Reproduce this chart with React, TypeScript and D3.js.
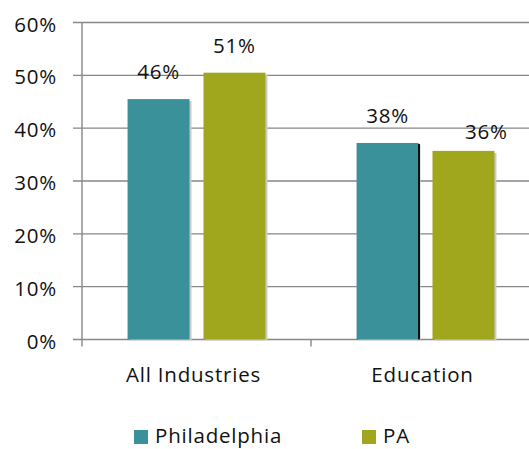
import React from "react";
import * as d3 from "d3";

const categories = ["All Industries", "Education"];
const seriesNames = ["Philadelphia", "PA"];
const philadelphia = [0.455, 0.372];
const pa = [0.505, 0.357];
const philadelphiaLabels = ["46%", "38%"];
const paLabels = ["51%", "36%"];
const yTicks = [0, 0.1, 0.2, 0.3, 0.4, 0.5, 0.6];

const colors = ["#3a9199", "#a1a71c"];
const font = "'Open Sans', sans-serif";

const width = 529;
const height = 449;
const margin = { top: 22.5, left: 82, bottom: 339.5 };

const App = () => {
  const x = d3
    .scaleBand()
    .domain(categories)
    .range([margin.left, margin.left + 229 * 2])
    .paddingInner(0)
    .paddingOuter(0);

  const xInner = d3
    .scaleBand()
    .domain(seriesNames)
    .range([0, x.bandwidth()])
    .paddingInner(0.184)
    .paddingOuter(0.6);

  const y = d3.scaleLinear().domain([0, 0.6]).range([margin.bottom, margin.top]);

  const series = [
    { name: "Philadelphia", values: philadelphia, labels: philadelphiaLabels },
    { name: "PA", values: pa, labels: paLabels },
  ];

  // manual nudges on the data labels, as in the original
  const labelShift = [
    [[0, 0], [0, 0]],
    [[0, 0], [23, 8]],
  ];

  const textStyle = {
    fontFamily: font,
    fontSize: 20.5,
    letterSpacing: 0.8,
    fill: "#111",
  };

  return (
    <svg
      width={width}
      height={height}
      style={{ position: "absolute", left: 0, top: 0, background: "#fff" }}
    >
      {/* gridlines + y ticks */}
      {yTicks.map((t) => (
        <g key={t}>
          <line
            x1={73}
            x2={width}
            y1={y(t)}
            y2={y(t)}
            stroke="#878787"
            strokeWidth={1.4}
          />
          <text x={57} y={y(t) + 9} textAnchor="end" style={textStyle}>
            {d3.format(".0%")(t)}
          </text>
        </g>
      ))}
      {/* y axis line */}
      <line
        x1={margin.left}
        x2={margin.left}
        y1={y(0.6)}
        y2={y(0) + 7}
        stroke="#878787"
        strokeWidth={1.4}
      />
      {/* category tick marks */}
      {categories.slice(1).map((c) => (
        <line
          key={c}
          x1={x(c)}
          x2={x(c)}
          y1={y(0)}
          y2={y(0) + 7}
          stroke="#878787"
          strokeWidth={1.4}
        />
      ))}

      {/* bars */}
      {series.map((s, si) =>
        categories.map((c, ci) => {
          const bx = (x(c) ?? 0) + (xInner(s.name) ?? 0);
          const by = y(s.values[ci]);
          const bh = y(0) - by;
          const bw = xInner.bandwidth();
          const [dx, dy] = labelShift[si][ci];
          return (
            <g key={s.name + c}>
              <rect x={bx + 2} y={by + 2} width={bw} height={bh - 1} fill="#c9c9c9" />
              <rect x={bx} y={by} width={bw} height={bh} fill={colors[si]} />
              {si === 0 && ci === 1 && (
                <line
                  x1={bx + bw + 0.5}
                  x2={bx + bw + 0.5}
                  y1={by + 1}
                  y2={y(0)}
                  stroke="#111"
                  strokeWidth={2}
                />
              )}
              <text
                x={bx + bw / 2 + dx}
                y={by - 20 + dy}
                textAnchor="middle"
                style={textStyle}
              >
                {s.labels[ci]}
              </text>
            </g>
          );
        })
      )}

      {/* category labels */}
      {categories.map((c) => (
        <text
          key={c}
          x={(x(c) ?? 0) + x.bandwidth() / 2 - 3}
          y={382}
          textAnchor="middle"
          style={textStyle}
        >
          {c}
        </text>
      ))}

      {/* legend */}
      {seriesNames.map((n, i) => {
        const lx = [134, 362][i];
        return (
          <g key={n}>
            <rect x={lx} y={430} width={14} height={14} fill={colors[i]} />
            <text x={lx + 21} y={442.5} style={textStyle}>
              {n}
            </text>
          </g>
        );
      })}
    </svg>
  );
};

export default App;
